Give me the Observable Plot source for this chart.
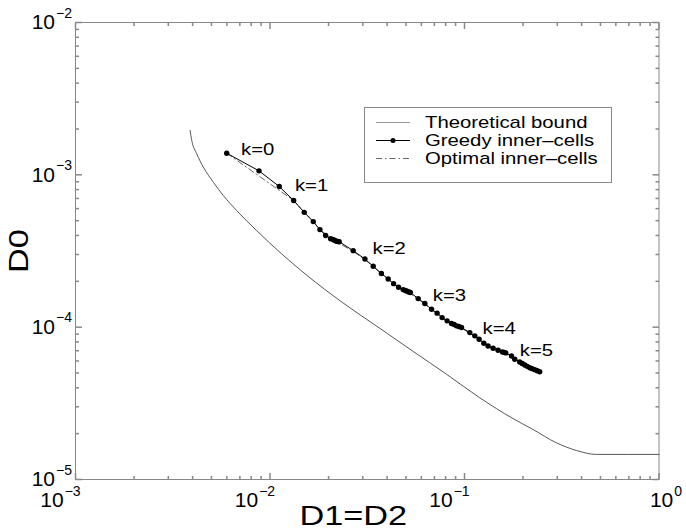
<!DOCTYPE html>
<html><head><meta charset="utf-8">
<script src="https://cdn.jsdelivr.net/npm/d3@7"></script>
<script src="https://cdn.jsdelivr.net/npm/@observablehq/plot@0.6"></script>
<style>body{margin:0;background:#fff}</style>
</head><body><div id="chart"></div>
<script>
// ---- data ----
const boundX = [0.003882, 0.003961, 0.004202, 0.004545, 0.005115, 0.005756, 0.006745, 0.008546, 0.01126, 0.01543, 0.0237, 0.03673, 0.05445, 0.08082, 0.1198, 0.1777, 0.2250, 0.2969, 0.3761, 0.4764, 1];
const boundY = [1.956e-3, 1.681e-3, 1.375e-3, 1.122e-3, 8.94e-4, 7.31e-4, 5.82e-4, 4.30e-4, 3.095e-4, 2.195e-4, 1.445e-4, 9.82e-5, 6.93e-5, 4.91e-5, 3.44e-5, 2.51e-5, 2.13e-5, 1.741e-5, 1.551e-5, 1.461e-5, 1.461e-5];

const greedyX = [0.00599, 0.00878, 0.01116, 0.01323, 0.0150, 0.01669, 0.01806, 0.01932, 0.0205, 0.0210, 0.02132, 0.0217, 0.02201, 0.0224, 0.02269,
  0.02678, 0.03076, 0.03394, 0.03739, 0.04053, 0.0432, 0.04581, 0.04837, 0.0496, 0.05072, 0.0517, 0.05268,
  0.05778, 0.06253, 0.06768, 0.07232, 0.07672, 0.08138, 0.08573, 0.0885, 0.09097, 0.0935, 0.09652,
  0.1065, 0.1130, 0.1189, 0.1257, 0.1322, 0.1403, 0.1488, 0.1568, 0.1600, 0.1630,
  0.1744, 0.1813, 0.1923, 0.1980, 0.2041, 0.2100, 0.2165, 0.2230, 0.2297, 0.2366, 0.2436];
const greedyY = [1.387e-3, 1.062e-3, 8.38e-4, 6.78e-4, 5.67e-4, 4.93e-4, 4.37e-4, 4.00e-4, 3.81e-4, 3.77e-4, 3.74e-4, 3.69e-4, 3.66e-4, 3.65e-4, 3.64e-4,
  3.18e-4, 2.80e-4, 2.51e-4, 2.25e-4, 2.07e-4, 1.93e-4, 1.83e-4, 1.765e-4, 1.74e-4, 1.72e-4, 1.70e-4, 1.69e-4,
  1.54e-4, 1.43e-4, 1.31e-4, 1.236e-4, 1.156e-4, 1.10e-4, 1.056e-4, 1.04e-4, 1.02e-4, 1.01e-4, 9.94e-5,
  9.21e-5, 8.77e-5, 8.34e-5, 7.85e-5, 7.53e-5, 7.27e-5, 7.06e-5, 6.88e-5, 6.83e-5, 6.78e-5,
  6.47e-5, 6.16e-5, 5.91e-5, 5.78e-5, 5.65e-5, 5.53e-5, 5.42e-5, 5.34e-5, 5.26e-5, 5.18e-5, 5.10e-5];

const optimalX = [0.00599, 0.01323, 0.0150, 0.01669, 0.01806, 0.0205, 0.02269, 0.02678, 0.03076, 0.03739, 0.0432, 0.05268, 0.05778, 0.06768, 0.08138, 0.09652, 0.1130, 0.1322, 0.1630, 0.1923, 0.2436];
const optimalY = [1.387e-3, 6.78e-4, 5.67e-4, 4.93e-4, 4.37e-4, 3.85e-4, 3.55e-4, 3.14e-4, 2.78e-4, 2.25e-4, 1.92e-4, 1.66e-4, 1.53e-4, 1.31e-4, 1.09e-4, 9.85e-5, 8.7e-5, 7.5e-5, 6.7e-5, 5.88e-5, 5.10e-5];

const kLabels = ["k=0", "k=1", "k=2", "k=3", "k=4", "k=5"];
const kLabelX = [0.0071, 0.01344, 0.0337, 0.06874, 0.1238, 0.1923];
const kLabelY = [1.455e-3, 8.5e-4, 3.27e-4, 1.607e-4, 9.74e-5, 6.98e-5];

const xDecades = [1e-3, 1e-2, 1e-1, 1];
const xExponents = ["\u22123", "\u22122", "\u22121", "0"];
const yDecades = [1e-5, 1e-4, 1e-3, 1e-2];
const yExponents = ["\u22125", "\u22124", "\u22123", "\u22122"];

const seriesNames = ["Theoretical bound", "Greedy inner\u2013cells", "Optimal inner\u2013cells"];
const xTitle = "D1=D2";
const yTitle = "D0";

// ---- build tables ----
const bound = boundX.map((x, i) => ({x, y: boundY[i]}));
const greedy = greedyX.map((x, i) => ({x, y: greedyY[i]}));
const optimal = optimalX.map((x, i) => ({x, y: optimalY[i]}));
const kTable = kLabels.map((t, i) => ({t, x: kLabelX[i], y: kLabelY[i]}));
const minors = ds => ds.slice(0, -1).flatMap(d => d3.range(2, 10).map(m => m * d));
const xMinor = minors(xDecades), yMinor = minors(yDecades);
const xNeg = xDecades.filter((d, i) => xExponents[i] !== "0");
const xNegExp = xExponents.filter(e => e !== "0");
const xPos = xDecades.filter((d, i) => xExponents[i] === "0");
const xPosExp = xExponents.filter(e => e === "0");

// tick symbols: a line of length r in a given direction
const tickSym = (ux, uy) => ({draw(ctx, size) { const l = Math.sqrt(size / Math.PI); ctx.moveTo(0, 0); ctx.lineTo(ux * l, uy * l); }});
const TC = "#888";
const MAJ = 6.5, MIN = 3.5;
const tickMarks = [
  Plot.dot(xDecades, {x: d => d, frameAnchor: "bottom", symbol: tickSym(0, -1), r: MAJ, fill: "none", stroke: TC}),
  Plot.dot(xMinor, {x: d => d, frameAnchor: "bottom", symbol: tickSym(0, -1), r: MIN, fill: "none", stroke: TC}),
  Plot.dot(xDecades, {x: d => d, frameAnchor: "top", symbol: tickSym(0, 1), r: MAJ, fill: "none", stroke: TC}),
  Plot.dot(xMinor, {x: d => d, frameAnchor: "top", symbol: tickSym(0, 1), r: MIN, fill: "none", stroke: TC}),
  Plot.dot(yDecades, {y: d => d, frameAnchor: "left", symbol: tickSym(1, 0), r: MAJ, fill: "none", stroke: TC}),
  Plot.dot(yMinor, {y: d => d, frameAnchor: "left", symbol: tickSym(1, 0), r: MIN, fill: "none", stroke: TC}),
  Plot.dot(yDecades, {y: d => d, frameAnchor: "right", symbol: tickSym(-1, 0), r: MAJ, fill: "none", stroke: TC}),
  Plot.dot(yMinor, {y: d => d, frameAnchor: "right", symbol: tickSym(-1, 0), r: MIN, fill: "none", stroke: TC})
];

const FONT = "'Liberation Sans', Arial, Helvetica, sans-serif";
const STRETCH = 1.27;
const TICKFONT = 21;

const marks = [
  Plot.frame({stroke: TC}),
  ...tickMarks,
  Plot.line(bound, {x: "x", y: "y", stroke: "#444", strokeWidth: 0.9, curve: "monotone-x"}),
  Plot.line(optimal, {x: "x", y: "y", stroke: "#666", strokeWidth: 1, strokeDasharray: "6,3,1.5,3"}),
  Plot.line(greedy, {x: "x", y: "y", stroke: "black", strokeWidth: 1}),
  Plot.dot(greedy, {x: "x", y: "y", r: 2.7, fill: "black", stroke: "none"}),
  Plot.text(kTable, {x: "x", y: "y", text: "t", textAnchor: "start", lineAnchor: "middle", fontSize: 16, fill: "black", ariaLabel: () => "stretch"}),
  Plot.text(xNeg, {x: d => d, frameAnchor: "bottom", lineAnchor: "top", dx: -15, dy: 13, text: () => "10", fontSize: TICKFONT, fill: "black", textAnchor: "middle", ariaLabel: () => "xlabn"}),
  Plot.text(xPos, {x: d => d, frameAnchor: "bottom", lineAnchor: "top", dx: 7, dy: 13, text: () => "10", fontSize: TICKFONT, fill: "black", textAnchor: "middle", ariaLabel: () => "xlabp"}),
  Plot.text(yDecades, {y: d => d, frameAnchor: "left", lineAnchor: "middle", dx: -3.5, text: () => "10", fontSize: TICKFONT, fill: "black", textAnchor: "end", ariaLabel: () => "ylab"}),
  Plot.text([xTitle], {frameAnchor: "bottom", lineAnchor: "middle", dx: -14, dy: 37, text: d => d, fontSize: 27, fill: "black", ariaLabel: () => "stretch"}),
  Plot.text([yTitle], {frameAnchor: "left", lineAnchor: "middle", rotate: -90, dx: -56, dy: 22, text: d => d, fontSize: 27, fill: "black", ariaLabel: () => "stretch"})
];

const svg = Plot.plot({
  width: 686, height: 531,
  marginLeft: 75, marginRight: 27.5, marginTop: 22, marginBottom: 52,
  x: {type: "log", domain: [1e-3, 1], axis: null},
  y: {type: "log", domain: [1e-5, 1e-2], axis: null},
  style: {background: "white", fontFamily: FONT, color: "black", overflow: "visible"},
  marks
});

// text elements of a text mark (by per-element label, else by mark order)
function textsOf(label, markIndex) {
  let t = Array.from(svg.querySelectorAll(`text[aria-label="${label}"], [aria-label="${label}"] text`));
  if (t.length === 0 && markIndex >= 0) {
    const kids = Array.from(svg.children).filter(e => e.tagName.toLowerCase() !== "style");
    const el = kids[markIndex];
    if (el) t = Array.from(el.querySelectorAll("text"));
  }
  return t;
}
const idx = name => marks.length - ({k: 6, xlabn: 5, xlabp: 4, ylab: 3, xt: 2, yt: 1})[name];

// superscript exponents on tick labels
const addExp = (els, exps) => els.forEach((el, j) => {
  d3.select(el).append("tspan").attr("font-size", 14).attr("dx", 1).attr("dy", -11.5).text(exps[j]);
});
addExp(textsOf("xlabn", idx("xlabn")), xNegExp);
addExp(textsOf("xlabp", idx("xlabp")), xPosExp);
addExp(textsOf("ylab", idx("ylab")), yExponents);

// horizontally widened lettering as in the reference
let st = textsOf("stretch", -1);
if (st.length === 0) st = [idx("k"), idx("xt"), idx("yt")].flatMap(i => textsOf("__none__", i));
st.forEach(el => el.setAttribute("transform", (el.getAttribute("transform") || "") + ` scale(${STRETCH},1)`));

// legend box
const s = d3.select(svg);
const L = s.append("g").attr("font-family", FONT).attr("text-anchor", "start");
L.append("rect").attr("x", 364.5).attr("y", 107.5).attr("width", 247).attr("height", 75)
  .attr("fill", "white").attr("stroke", TC);
const rows = [122, 140, 158];
const styles = [
  {stroke: "#999", dash: null},
  {stroke: "black", dash: null},
  {stroke: "#666", dash: "6,3,1.5,3"}
];
rows.forEach((ry, i) => {
  L.append("line").attr("x1", 376).attr("x2", 410).attr("y1", ry + 0.5).attr("y2", ry + 0.5)
    .attr("stroke", styles[i].stroke).attr("stroke-dasharray", styles[i].dash);
  if (i === 1) L.append("circle").attr("cx", 393).attr("cy", ry + 0.5).attr("r", 2.5).attr("fill", "black");
  L.append("text").attr("transform", `translate(425,${ry}) scale(${STRETCH},1)`)
    .attr("dy", "0.35em").attr("font-size", 16).attr("fill", "black").attr("text-anchor", "start").text(seriesNames[i]);
});

document.getElementById("chart").appendChild(svg);
</script>
</body></html>
